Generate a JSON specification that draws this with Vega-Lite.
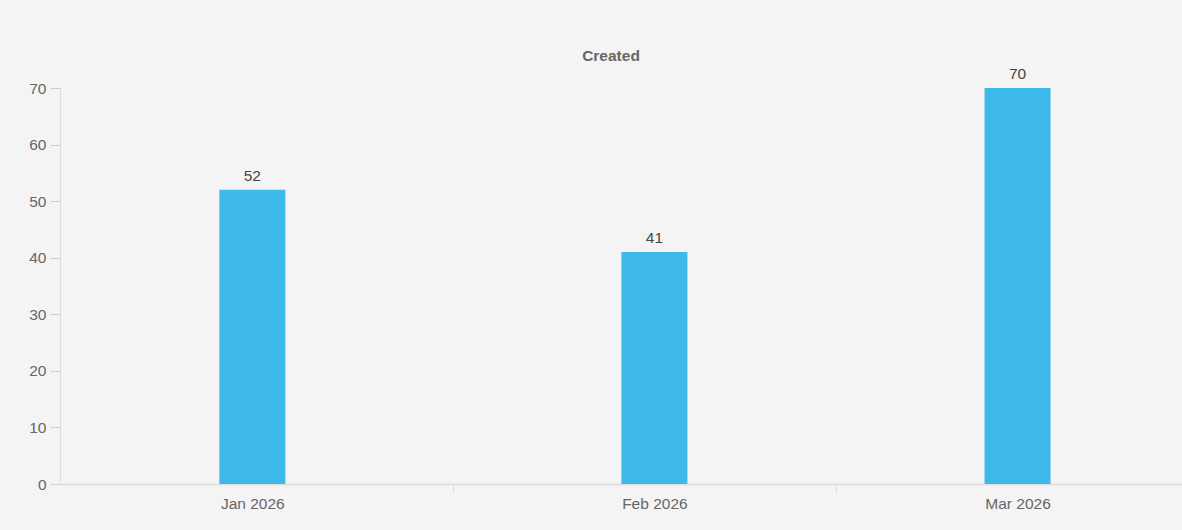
{
  "$schema": "https://vega.github.io/schema/vega-lite/v6.json",
  "width": 1122,
  "height": 396,
  "autosize": {"type": "none"},
  "padding": {"left": 60, "top": 88, "right": 0, "bottom": 46},
  "background": "#f4f4f4",
  "config": {"view": {"stroke": null}, "font": "Liberation Sans"},
  "title": {"text": "Created", "fontSize": 15.5, "fontWeight": "bold", "color": "#666666", "anchor": "middle", "offset": 3, "dx": -10},
  "data": {"values": [
    {"month": "2026-01-01", "count": 52},
    {"month": "2026-02-01", "count": 41},
    {"month": "2026-03-01", "count": 70}
  ]},
  "encoding": {
    "x": {
      "field": "month", "type": "temporal",
      "scale": {"type": "utc", "padding": 0, "domain": [
        {"utc": true, "year": 2025, "month": 12, "date": 17, "hours": 4, "minutes": 5},
        {"utc": true, "year": 2026, "month": 3, "date": 13, "hours": 16, "minutes": 19}
      ]},
      "axis": {
        "title": null,
        "values": [
          {"utc": true, "year": 2026, "month": 1, "date": 1},
          {"utc": true, "year": 2026, "month": 1, "date": 16, "hours": 12},
          {"utc": true, "year": 2026, "month": 2, "date": 1},
          {"utc": true, "year": 2026, "month": 2, "date": 15},
          {"utc": true, "year": 2026, "month": 3, "date": 1}
        ],
        "labelExpr": "utcdate(datum.value) == 1 ? utcFormat(datum.value, '%b %Y') : ''",
        "tickOpacity": {"condition": {"test": "utcdate(datum.value) == 1", "value": 0}, "value": 1},
        "labelOverlap": false,
        "labelBound": false,
        "labelFlush": false,
        "grid": false,
        "domainColor": "#e0e0e0",
        "domainWidth": 2,
        "tickColor": "#dddddd",
        "tickSize": 9,
        "labelPadding": 3,
        "labelFontSize": 15.5,
        "labelColor": "#666666",
        "labelFont": "Liberation Sans"
      }
    },
    "y": {
      "field": "count", "type": "quantitative",
      "scale": {"domain": [0, 70], "nice": false},
      "axis": {
        "title": null,
        "values": [0, 10, 20, 30, 40, 50, 60, 70],
        "grid": false,
        "domainColor": "#dddddd",
        "tickColor": "#cccccc",
        "tickSize": 10,
        "labelPadding": 4,
        "labelFontSize": 15.5,
        "labelColor": "#666666",
        "labelFont": "Liberation Sans"
      }
    }
  },
  "layer": [
    {"mark": {"type": "bar", "width": 66, "color": "#3cb9ea"}},
    {"mark": {"type": "text", "baseline": "alphabetic", "dy": -9, "fontSize": 15.5, "color": "#444444", "font": "Liberation Sans"},
     "encoding": {"text": {"field": "count", "type": "quantitative"}}}
  ]
}
